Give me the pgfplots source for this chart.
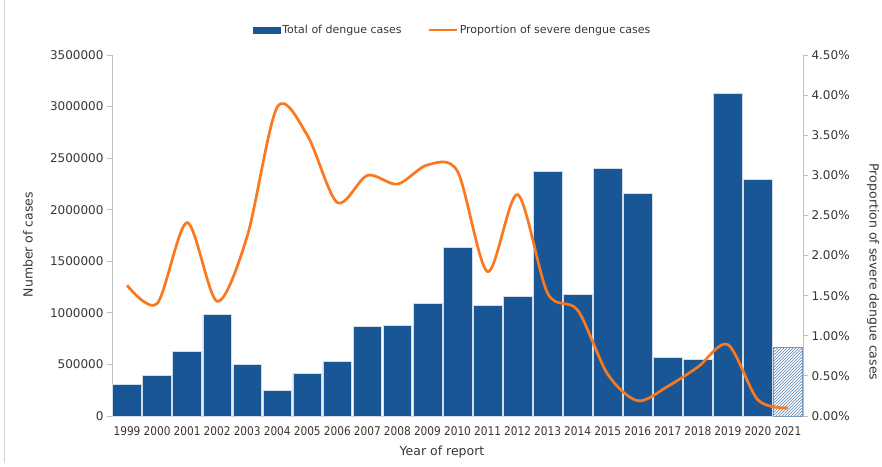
\documentclass[border=0pt]{standalone}
\usepackage{pgfplots}
\pgfplotsset{compat=1.18}
\usetikzlibrary{patterns}
\usepackage{fontspec}
\setmainfont{DejaVu Sans}
\newfontfamily\yearfont[FakeStretch=0.88]{DejaVu Sans}
\definecolor{barblue}{RGB}{25,86,150}
\definecolor{lineorange}{RGB}{250,120,30}
\definecolor{axgray}{RGB}{191,191,191}
\definecolor{txt}{RGB}{55,55,55}

\pgfplotstableread{
x cases
0 310000
1 391000
2 630000
3 986000
4 501000
5 252000
6 414000
7 530000
8 870000
9 879000
10 1089000
11 1636000
12 1070000
13 1157000
14 2375000
15 1176000
16 2402000
17 2162000
18 572000
19 550000
20 3129000
21 2295000
}\casestable

\pgfplotstableread{
x cases
22 666000
}\provtable

\pgfplotstableread{
x pct
0 1.63
1 1.40
2 2.41
3 1.43
4 2.24
5 3.85
6 3.50
7 2.66
8 3.00
9 2.89
10 3.13
11 3.05
12 1.80
13 2.76
14 1.53
15 1.32
16 0.52
17 0.19
18 0.37
19 0.61
20 0.89
21 0.20
22 0.10
}\pcttable

\begin{document}
\begin{tikzpicture}
\path[use as bounding box] (0,0) rectangle (882pt,466pt);
\fill[white] (0,0) rectangle (882pt,466pt);
\draw[axgray!70, line width=0.8pt] (4pt,3pt) -- (4pt,466pt);

\begin{axis}[
  at={(112pt,50pt)}, anchor=south west,
  scale only axis, width=691pt, height=361pt,
  xmin=-0.5, xmax=22.5, ymin=0, ymax=3500000,
  axis x line*=bottom, axis y line*=left,
  axis line style={axgray, line width=0.9pt, -},
  tick align=outside, major tick length=5pt,
  tick style={axgray, line width=0.9pt},
  xtick={0,...,22},
  xticklabels={1999,2000,2001,2002,2003,2004,2005,2006,2007,2008,2009,2010,2011,2012,2013,2014,2015,2016,2017,2018,2019,2020,2021},
  x tick label style={font=\yearfont\fontsize{12}{12}\selectfont, text=txt, yshift=-2pt},
  major x tick style={draw=none},
  ytick={0,500000,1000000,1500000,2000000,2500000,3000000,3500000},
  scaled y ticks=false,
  y tick label style={font=\fontsize{12}{14}\selectfont, text=txt},
  yticklabel style={/pgf/number format/.cd, fixed, 1000 sep={}, assume math mode=true},
  xlabel={Year of report},
  xlabel style={at={(axis description cs:0.4776,-0.0997)}, anchor=center, font=\fontsize{12.5}{14}\selectfont, text=txt},
  ylabel={Number of cases},
  ylabel style={at={(axis description cs:-0.1216,0.475)}, anchor=center, font=\fontsize{12.5}{14}\selectfont, text=txt},
  clip=false,
]
\addplot[ybar, bar width=0.955, fill=barblue, draw=white!80!barblue, line width=0.6pt] table[x=x, y=cases] {\casestable};
\addplot[ybar, bar width=0.955, pattern=north east lines, pattern color=barblue!75, draw=barblue!60, line width=0.8pt] table[x=x, y=cases] {\provtable};
\end{axis}

\begin{axis}[
  at={(112pt,50pt)}, anchor=south west,
  scale only axis, width=691pt, height=361pt,
  xmin=-0.5, xmax=22.5, ymin=0, ymax=4.5,
  axis x line=none, axis y line*=right,
  axis line style={axgray, line width=0.9pt, -},
  tick align=outside, major tick length=5pt,
  tick style={axgray, line width=0.9pt},
  ytick={0,0.5,1,1.5,2,2.5,3,3.5,4,4.5},
  yticklabel={\pgfmathprintnumber[fixed,fixed zerofill,precision=2,assume math mode=true]{\tick}\%},
  y tick label style={font=\fontsize{12}{14}\selectfont, text=txt},
  ylabel={Proportion of severe dengue cases},
  ylabel style={at={(axis description cs:1.1013,0.399)}, anchor=center, rotate=180, font=\fontsize{12.5}{14}\selectfont, text=txt},
  legend style={at={(axis description cs:0.493,1.069)}, anchor=center, draw=none, fill=none,
    font=\fontsize{11}{13}\selectfont, text=txt,
    /tikz/every even column/.append style={column sep=24pt}},
  legend columns=2,
  clip=false,
]
\addlegendimage{legend image code/.code={\fill[barblue] (0pt,-3pt) rectangle (27pt,3pt);}}
\addlegendentry{Total of dengue cases}
\addplot[smooth, tension=0.5, lineorange, line width=2.7pt,
  legend image code/.code={\draw[lineorange, line width=2.2pt] (0pt,0pt) -- (28pt,0pt);}]
  table[x=x, y=pct] {\pcttable};
\addlegendentry{Proportion of severe dengue cases}
\end{axis}
\end{tikzpicture}
\end{document}
